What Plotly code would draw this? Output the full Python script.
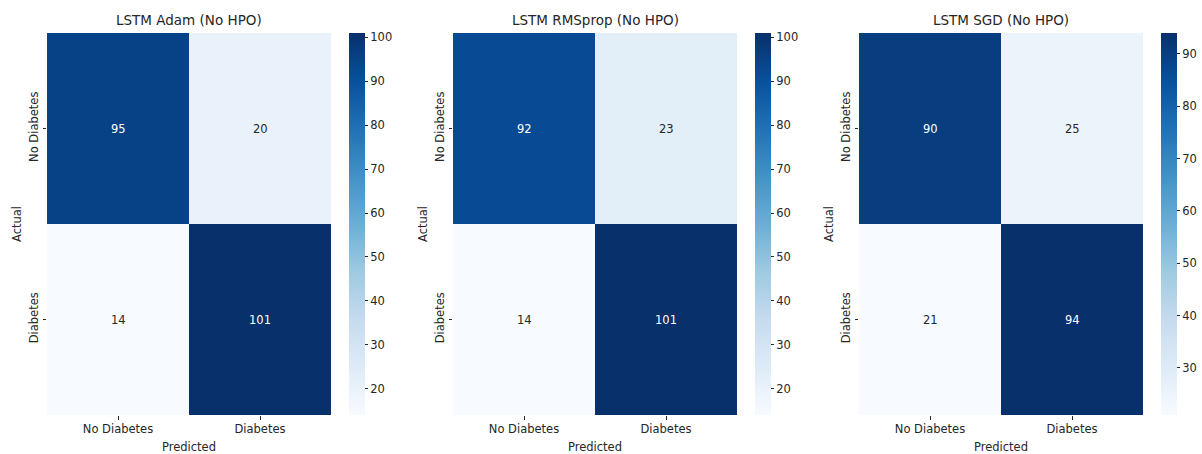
import plotly.graph_objects as go

labels = ["No Diabetes", "Diabetes"]
titles = ["LSTM Adam (No HPO)", "LSTM RMSprop (No HPO)", "LSTM SGD (No HPO)"]
cm_adam = [[95, 20], [14, 101]]
cm_rmsprop = [[92, 23], [14, 101]]
cm_sgd = [[90, 25], [21, 94]]
matrices = [cm_adam, cm_rmsprop, cm_sgd]
cb_ticks = [[20, 30, 40, 50, 60, 70, 80, 90, 100],
            [20, 30, 40, 50, 60, 70, 80, 90, 100],
            [30, 40, 50, 60, 70, 80, 90]]

W, H = 1202, 454
blues = [[0.0, "#f7fbff"], [0.125, "#deebf7"], [0.25, "#c6dbef"], [0.375, "#9ecae1"],
         [0.5, "#6baed6"], [0.625, "#4292c6"], [0.75, "#2171b5"], [0.875, "#08519c"],
         [1.0, "#08306b"]]

FONT = "DejaVu Sans"
TXT = "#262626"
FS = 11.5

hm_left = [47, 453, 859]
hm_w = 284
top, bottom = 33, 415
cb_off = 302

fig = go.Figure()
annotations = []
for i, (cm, title) in enumerate(zip(matrices, titles)):
    xa = "x" if i == 0 else f"x{i+1}"
    ya = "y" if i == 0 else f"y{i+1}"
    zmin = min(min(r) for r in cm)
    zmax = max(max(r) for r in cm)
    fig.add_trace(go.Heatmap(
        z=cm, x=labels, y=labels, xaxis=xa, yaxis=ya,
        colorscale=blues, zmin=zmin, zmax=zmax, xgap=0, ygap=0,
        hoverinfo="skip",
        colorbar=dict(
            x=(hm_left[i] + cb_off) / W, xanchor="left", xref="paper",
            y=1 - (top + bottom) / 2 / H, yanchor="middle",
            len=(bottom - top) / H, lenmode="fraction",
            thickness=16, thicknessmode="pixels",
            outlinewidth=0, ticks="outside", ticklen=3.5, tickwidth=1,
            tickcolor=TXT, tickvals=cb_ticks[i],
            tickfont=dict(family=FONT, size=FS, color=TXT),
            xpad=0, ypad=0,
        ),
    ))
    for r in range(2):
        for c in range(2):
            v = cm[r][c]
            frac = (v - zmin) / (zmax - zmin)
            annotations.append(dict(
                x=labels[c], y=labels[r], xref=xa, yref=ya, text=str(v),
                showarrow=False,
                font=dict(family=FONT, size=FS, color="white" if frac > 0.5 else TXT),
            ))
    x0 = hm_left[i] / W
    x1 = (hm_left[i] + hm_w) / W
    axis_suffix = "" if i == 0 else str(i + 1)
    fig.update_layout(**{
        f"xaxis{axis_suffix}": dict(
            domain=[x0, x1], anchor=ya, showgrid=False, zeroline=False,
            ticks="outside", ticklen=3.5, tickcolor=TXT, automargin=False,
            tickfont=dict(family=FONT, size=FS, color=TXT),
            title=dict(text="Predicted", font=dict(family=FONT, size=FS, color=TXT), standoff=12),
            showline=False,
        ),
        f"yaxis{axis_suffix}": dict(
            domain=[1 - bottom / H, 1 - top / H], anchor=xa, showgrid=False, zeroline=False,
            autorange="reversed", ticks="outside", ticklen=3.5, tickcolor=TXT,
            tickangle=-90, automargin=False,
            tickfont=dict(family=FONT, size=FS, color=TXT),
            title=dict(text="Actual", font=dict(family=FONT, size=FS, color=TXT), standoff=2),
            showline=False,
        ),
    })
    annotations.append(dict(
        x=(hm_left[i] + hm_w / 2) / W, y=1 - 20 / H, xref="paper", yref="paper",
        text=title, showarrow=False, xanchor="center", yanchor="middle",
        font=dict(family=FONT, size=13.5, color=TXT),
    ))

fig.update_layout(
    width=W, height=H, margin=dict(l=0, r=0, t=0, b=0, autoexpand=False),
    paper_bgcolor="white", plot_bgcolor="white",
    annotations=annotations, showlegend=False,
)
fig.write_html("out.html", config={"displayModeBar": False},
               post_script="document.body.style.margin='0';document.body.style.overflow='hidden';")
